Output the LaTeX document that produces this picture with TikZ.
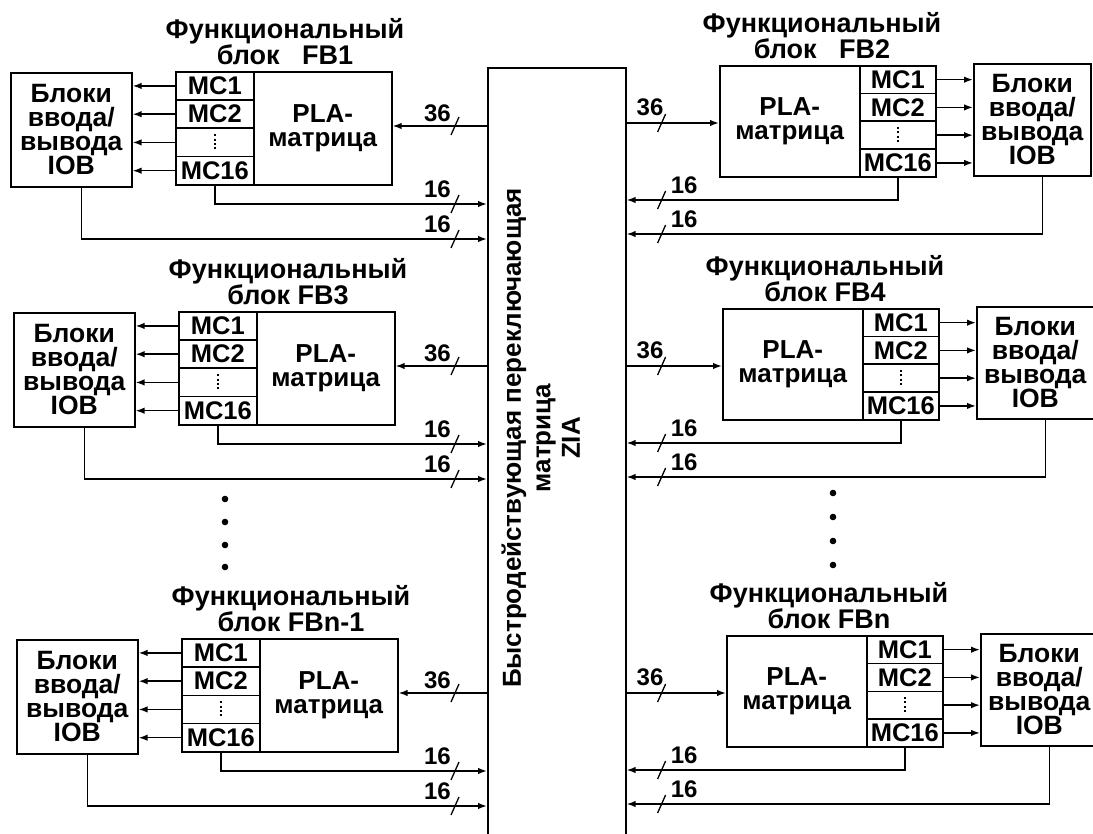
\documentclass[tikz,border=0pt]{standalone}
\usepackage{fontspec}
\setmainfont{Liberation Sans}
\usetikzlibrary{arrows.meta,calc}

\tikzset{
  ln/.style={line width=1.6pt},
  arr/.style={ln, -{Latex[length=9pt,width=6.5pt]}},
  box/.style={draw, ln, inner sep=0pt, anchor=north west},
  iobtext/.style={font=\bfseries\fontsize{26.5}{24}\selectfont, align=center},
  mctext/.style={font=\bfseries\fontsize{25.5}{25}\selectfont},
  platext/.style={font=\bfseries\fontsize{26}{24}\selectfont, align=center},
  ttl/.style={font=\bfseries\fontsize{27}{23}\selectfont, align=center, inner sep=0pt},
  num/.style={font=\bfseries\fontsize{24}{24}\selectfont, inner sep=0pt},
  ziatxt/.style={font=\bfseries\fontsize{26}{26}\selectfont, rotate=90, inner sep=0pt},
  slashline/.style={line width=1.3pt},
  vdotline/.style={line width=2.2pt, dash pattern=on 2pt off 2.2pt},
  dotmark/.style={fill=black}
}

\newcommand\FBleftblock[4]{%
  \begin{scope}[shift={(#2,#3)}]
    \node[box, minimum width=121pt, minimum height=114pt, iobtext] (#1iob) at (0,1) {Блоки\\ввода/\\вывода\\IOB};
    \node[box, minimum width=78pt, minimum height=28.25pt, mctext] (#1m1) at (165,0) {MC1};
    \node[box, minimum width=78pt, minimum height=28.25pt, mctext] (#1m2) at (165,28.25) {MC2};
    \node[box, minimum width=78pt, minimum height=28.25pt, mctext] (#1md) at (165,56.5) {};
    \node[box, minimum width=78pt, minimum height=28.25pt, mctext] (#1m16) at (165,84.75) {MC16};
    \node[box, minimum width=138pt, minimum height=113pt, platext] (#1pla) at (243,0) {PLA-\\матрица};
    \node[ttl] (#1t) at (275,-29.5) {Функциональный\\#4};
    \coordinate (#1a) at (0,55);
    \coordinate (#1b) at (0,133);
    \coordinate (#1c) at (0,168);
  \end{scope}
  \draw[vdotline] ($(#1md.center)+(0,-8)$) -- ($(#1md.center)+(0,8)$);
  \foreach \r in {m1,m2,md,m16} {\draw[arr] (#1\r.west) -- (#1\r.west -| #1iob.east);}
  \draw[arr] (#1a -| zia.west) -- (#1a -| #1pla.east);
  \draw[arr] (#1m16.south) |- (#1b -| zia.west);
  \draw[arr] ([xshift=10pt]#1iob.south) |- (#1c -| zia.west);
  \coordinate (#1sa) at ($(#1a -| zia.west)+(-32,0)$);
  \coordinate (#1sb) at ($(#1b -| zia.west)+(-32,0)$);
  \coordinate (#1sc) at ($(#1c -| zia.west)+(-32,0)$);
  \foreach \s in {sa,sb,sc} {\draw[slashline] ($(#1\s)+(-4,9)$) -- ($(#1\s)+(4,-9)$);}
  \node[num, anchor=south east] at ($(#1sa)+(-4,-4)$) {36};
  \node[num, anchor=south east] at ($(#1sb)+(-4,-6)$) {16};
  \node[num, anchor=south east] at ($(#1sc)+(-4,-6)$) {16};
}

\newcommand\FBrightblock[4]{%
  \begin{scope}[shift={(#2,#3)}]
    \node[box, minimum width=140pt, minimum height=111pt, platext] (#1pla) at (0,0) {PLA-\\матрица};
    \node[box, minimum width=76pt, minimum height=27.75pt, mctext] (#1m1) at (140,0) {MC1};
    \node[box, minimum width=76pt, minimum height=27.75pt, mctext] (#1m2) at (140,27.75) {MC2};
    \node[box, minimum width=76pt, minimum height=27.75pt, mctext] (#1md) at (140,55.5) {};
    \node[box, minimum width=76pt, minimum height=27.75pt, mctext] (#1m16) at (140,83.25) {MC16};
    \node[box, minimum width=117pt, minimum height=112pt, iobtext] (#1iob) at (254,-2) {Блоки\\ввода/\\вывода\\IOB};
    \node[ttl] (#1t) at (103,-29.5) {Функциональный\\#4};
    \coordinate (#1a) at (0,58);
    \coordinate (#1b) at (0,135);
    \coordinate (#1c) at (0,169);
  \end{scope}
  \draw[vdotline] ($(#1md.center)+(0,-8)$) -- ($(#1md.center)+(0,8)$);
  \foreach \r in {m1,m2,md,m16} {\draw[arr] (#1\r.east) -- (#1\r.east -| #1iob.west);}
  \draw[arr] (#1a -| zia.east) -- (#1a -| #1pla.west);
  \draw[arr] (#1m16.south) |- (#1b -| zia.east);
  \draw[arr] ([xshift=10pt]#1iob.south) |- (#1c -| zia.east);
  \coordinate (#1sa) at ($(#1a -| zia.east)+(35,0)$);
  \coordinate (#1sb) at ($(#1b -| zia.east)+(35,0)$);
  \coordinate (#1sc) at ($(#1c -| zia.east)+(35,0)$);
  \foreach \s in {sa,sb,sc} {\draw[slashline] ($(#1\s)+(-4,9)$) -- ($(#1\s)+(4,-9)$);}
  \node[num, anchor=south east] at ($(#1sa)+(2,-7)$) {36};
  \node[num, anchor=south west] at ($(#1sb)+(9,-6)$) {16};
  \node[num, anchor=south west] at ($(#1sc)+(9,-6)$) {16};
}

\begin{document}
\begin{tikzpicture}[x=1pt,y=-1pt]
  \useasboundingbox (0,0) rectangle (1093,834);
  \fill[white] (0,0) rectangle (1093,834);

  % central switch matrix
  \node[box, minimum width=138pt, minimum height=800pt] (zia) at (487,67) {};
  \node[ziatxt] (zia1) at (514,438) {Быстродействующая переключающая};
  \node[ziatxt] (zia2) at (546,438) {матрица};
  \node[ziatxt] (zia3) at (571,438) {ZIA};

  \FBleftblock{fbone}{10}{71}{блок\ \ \ FB1}
  \FBleftblock{fbthree}{13}{311}{блок FB3}
  \FBleftblock{fbnm}{16}{638}{блок FBn-1}

  \FBrightblock{fbtwo}{719}{65}{блок\ \ \ FB2}
  \FBrightblock{fbfour}{722}{308}{блок FB4}
  \FBrightblock{fbn}{726}{635}{блок FBn}

  % ellipsis dots
  \foreach \y [count=\i] in {499,522,545,567} {\fill[dotmark] (225,\y) circle[radius=3.3pt] node (ldot\i) {};}
  \foreach \y [count=\i] in {493,517,541,565} {\fill[dotmark] (833,\y) circle[radius=3.3pt] node (rdot\i) {};}
\end{tikzpicture}
\end{document}
